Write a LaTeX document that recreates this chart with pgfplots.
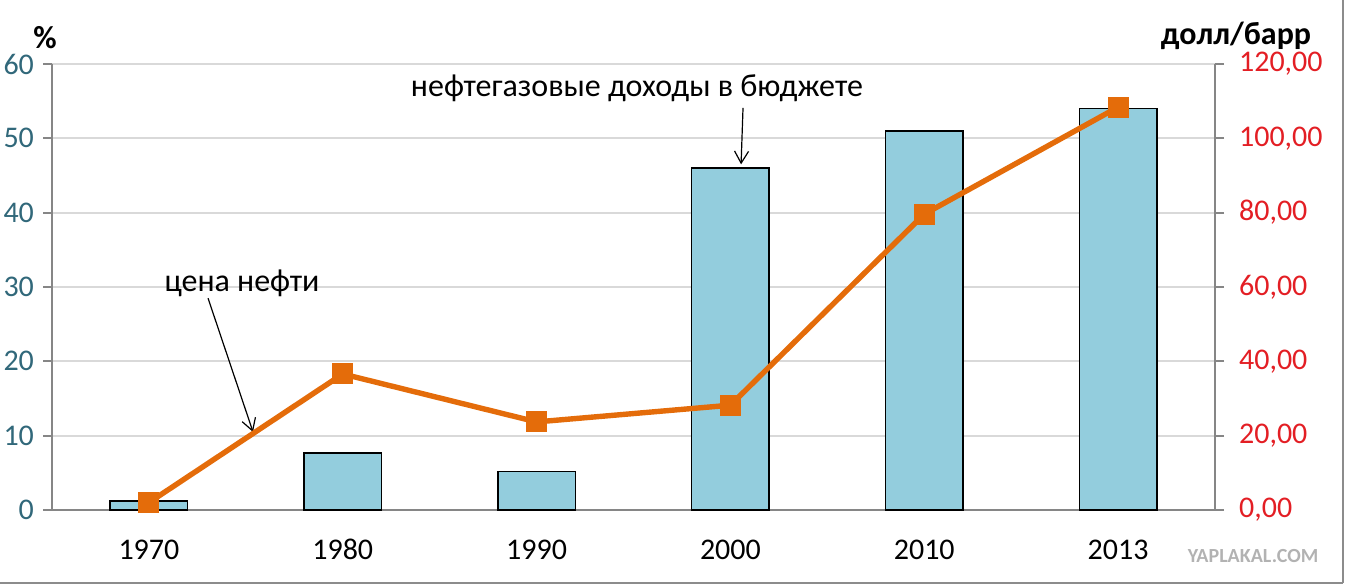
\documentclass[border=0pt]{standalone}
\usepackage{fontspec}
\setmainfont{Carlito}
\usepackage{pgfplots}
\pgfplotsset{compat=1.18}
\usetikzlibrary{arrows.meta}
\definecolor{barfill}{RGB}{147,205,221}
\definecolor{lineor}{RGB}{228,108,10}
\definecolor{lefttick}{RGB}{49,104,122}
\definecolor{righttick}{RGB}{227,30,36}
\definecolor{axisgray}{RGB}{134,134,134}
\definecolor{gridgray}{RGB}{217,217,217}
\begin{document}
\begin{tikzpicture}
\begin{axis}[
 at={(0,0)}, anchor=south west,
 scale only axis, width=581.5pt, height=223pt,
 xmin=-0.5, xmax=5.5, ymin=0, ymax=60,
 axis x line*=bottom, axis y line*=left,
 axis line style={draw=axisgray, line width=0.9pt, -},
 xtick={0,...,5}, xticklabels={1970,1980,1990,2000,2010,2013},
 x tick style={draw=none},
 extra x ticks={-0.5,0.5,...,5.5}, extra x tick labels={},
 extra x tick style={tick style={draw=axisgray, line width=0.9pt}},
 ytick={0,10,...,60},
 y tick style={draw=axisgray, line width=0.9pt},
 major tick length=4.5pt, tick align=outside,
 ymajorgrids, grid style={draw=gridgray, line width=0.9pt},
 tick label style={font=\fontsize{15}{17}\selectfont},
 yticklabel style={text=lefttick, xshift=-1pt},
 xticklabel style={anchor=base, text height=10pt, text depth=0pt, yshift=-20pt},
 /pgf/number format/assume math mode=true,
 clip=false,
]
\addplot[ybar, bar width=0.4, fill=barfill, draw=black, line width=0.8pt] coordinates {(0,1.2)(1,7.7)(2,5.2)(3,46)(4,51)(5,54)};
\node[font=\fontsize{16}{18}\selectfont] at (axis cs:2.518,56.8) {нефтегазовые доходы в бюджете};
\draw[line width=0.6pt, -{Straight Barb[length=6pt,width=7pt]}] (axis cs:3.065,54.1) -- (axis cs:3.055,46.5);
\node[font=\fontsize{16}{18}\selectfont] at (axis cs:0.48,30.5) {цена нефти};
\draw[line width=0.6pt, -{Straight Barb[length=6pt,width=7pt]}] (axis cs:0.305,28.5) -- (axis cs:0.537,10.5);
\end{axis}
\begin{axis}[
 at={(0,0)}, anchor=south west,
 scale only axis, width=581.5pt, height=223pt,
 xmin=-0.5, xmax=5.5, ymin=0, ymax=120,
 axis y line*=right, axis x line=none,
 axis line style={draw=axisgray, line width=0.9pt, -},
 ytick={0,20,...,120},
 yticklabels={{0,00},{20,00},{40,00},{60,00},{80,00},{100,00},{120,00}},
 y tick style={draw=axisgray, line width=0.9pt},
 major tick length=4.5pt, tick align=outside,
 yticklabel style={text=righttick, font=\fontsize{15}{17}\selectfont, xshift=4pt},
 /pgf/number format/assume math mode=true,
 clip=false,
]
\addplot[lineor, line width=2.7pt, mark=square*, mark size=5pt, mark options={solid, fill=lineor, draw=lineor, line width=0pt}] coordinates {(0,2)(1,36.6)(2,23.7)(3,28.2)(4,79.6)(5,108.4)};
\end{axis}
\node[font=\bfseries\fontsize{16}{18}\selectfont] at (-3.5pt,236pt) {\%};
\node[font=\bfseries\fontsize{16}{18}\selectfont] at (592pt,237pt) {долл/барр};
\node[font=\bfseries\fontsize{10}{11}\selectfont, text=black!30] at (600.5pt,-23pt) {YAPLAKAL.COM};
\draw[draw=black!45, line width=1pt] (645.5pt,-36.5pt) -- (645.5pt,260pt);
\draw[draw=black!45, line width=1pt] (-30pt,-36.5pt) -- (645.5pt,-36.5pt);
\pgfresetboundingbox
\path[use as bounding box] (-26pt,-37.5pt) rectangle (647.5pt,255pt);
\end{tikzpicture}
\end{document}
